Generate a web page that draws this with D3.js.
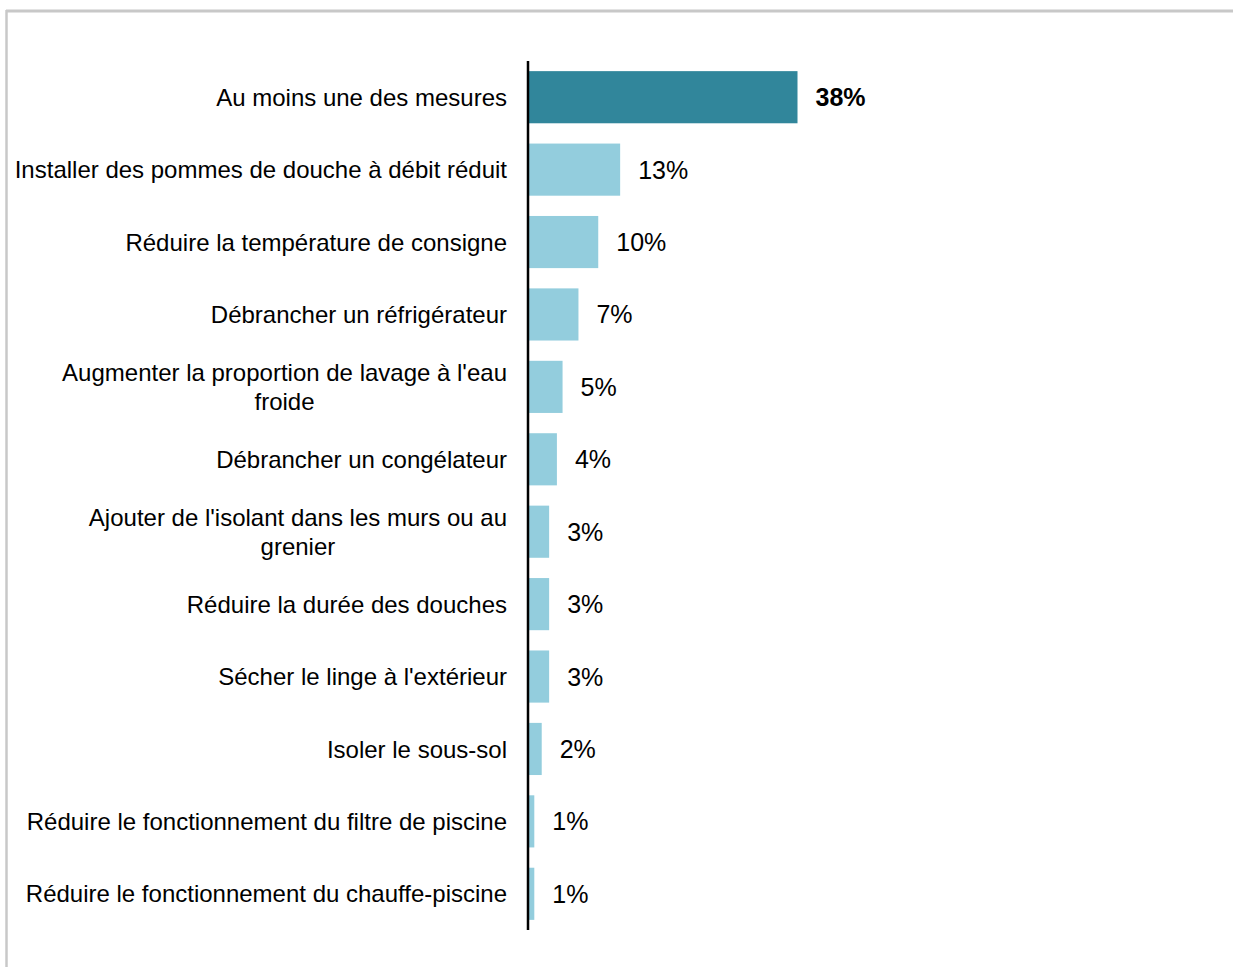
<!DOCTYPE html>
<html>
<head>
<meta charset="utf-8">
<script src="https://cdn.jsdelivr.net/npm/d3@7"></script>
<style>
  body { margin: 0; background: #fff; }
  svg { display: block; font-family: 'Liberation Sans', Arial, sans-serif; }
  .cat { font-size: 24px; fill: #000; }
  .val { font-size: 25px; fill: #000; }
</style>
</head>
<body>
<div id="main"></div>
<script>
// categories (line breaks as in the original)
const categories = [
  ['Au moins une des mesures'],
  ['Installer des pommes de douche à débit réduit'],
  ['Réduire la température de consigne'],
  ['Débrancher un réfrigérateur'],
  ["Augmenter la proportion de lavage à l'eau", 'froide'],
  ['Débrancher un congélateur'],
  ["Ajouter de l'isolant dans les murs ou au", 'grenier'],
  ['Réduire la durée des douches'],
  ["Sécher le linge à l'extérieur"],
  ['Isoler le sous-sol'],
  ['Réduire le fonctionnement du filtre de piscine'],
  ['Réduire le fonctionnement du chauffe-piscine']
]
const values = [38, 12.9, 9.8, 7.0, 4.75, 3.95, 2.85, 2.85, 2.85, 1.8, 0.75, 0.75]
const valueLabels = ['38%', '13%', '10%', '7%', '5%', '4%', '3%', '3%', '3%', '2%', '1%', '1%']

const W = 1233
const H = 967
const margin = { top: 61, left: 528, right: 200, bottom: 37 }
const width = W - margin.left - margin.right
const height = H - margin.top - margin.bottom

const svg = d3.select('#main').append('svg').attr('width', W).attr('height', H)

// frame (top and left edges only)
svg.append('line').attr('x1', 6).attr('x2', W).attr('y1', 11).attr('y2', 11)
  .attr('stroke', '#c8c8c8').attr('stroke-width', 3)
svg.append('line').attr('x1', 6.5).attr('x2', 6.5).attr('y1', 10).attr('y2', H)
  .attr('stroke', '#c8c8c8').attr('stroke-width', 2.5)

const g = svg.append('g').attr('transform', `translate(${margin.left}, ${margin.top})`)

const idx = d3.range(values.length)
const y = d3.scaleBand().domain(idx).range([0, height]).paddingInner(0.28).paddingOuter(0.14)
const x = d3.scaleLinear().domain([0, 38]).range([0, 268.5])

g.selectAll('rect.bar')
  .data(idx)
  .enter()
  .append('rect')
  .attr('class', 'bar')
  .attr('x', x(0) + 1)
  .attr('y', i => y(i))
  .attr('width', i => x(values[i]))
  .attr('height', y.bandwidth())
  .attr('fill', i => i === 0 ? '#31869b' : '#93cddd')

g.selectAll('text.val')
  .data(idx)
  .enter()
  .append('text')
  .attr('class', 'val')
  .attr('x', i => x(values[i]) + 1 + 18)
  .attr('y', i => y(i) + y.bandwidth() / 2)
  .attr('dy', '0.36em')
  .style('font-weight', i => i === 0 ? 'bold' : null)
  .text(i => valueLabels[i])

// category labels: block right-aligned, lines centred
const labelRight = -21
const lineH = 29
g.selectAll('text.cat')
  .data(idx)
  .enter()
  .append('text')
  .attr('class', 'cat')
  .each(function (i) {
    const t = d3.select(this)
    const lines = categories[i]
    const y0 = y(i) + y.bandwidth() / 2 - (lines.length - 1) * lineH / 2
    const spans = lines.map((l, k) => t.append('tspan')
      .attr('y', y0 + k * lineH)
      .attr('dy', '0.36em')
      .text(l))
    const maxW = d3.max(spans, s => s.node().getComputedTextLength())
    t.attr('text-anchor', 'middle')
    spans.forEach(s => s.attr('x', labelRight - maxW / 2))
  })

// axis line
g.append('line')
  .attr('x1', 0).attr('x2', 0)
  .attr('y1', 0).attr('y2', height)
  .attr('stroke', '#000').attr('stroke-width', 2.5)
</script>
</body>
</html>
